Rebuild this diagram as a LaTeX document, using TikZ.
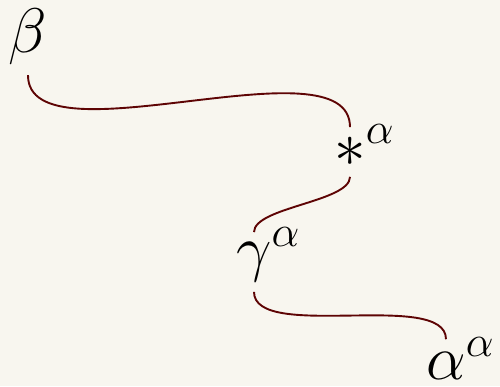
\RequirePackage{fix-cm}
\documentclass[tikz,border=0pt]{standalone}
\usepackage{tikz}
\definecolor{paper}{HTML}{F8F6EF}
\definecolor{linkred}{HTML}{5E0404}
\newcommand\withsup[2]{#1\rlap{\smash{$^{#2}$}}}

\begin{document}
\begin{tikzpicture}[
x=1pt, y=-1pt,
every node/.style={
inner sep=0pt,
font=\fontsize{63}{76}\selectfont
},
link/.style={draw=linkred, line width=1.9pt, shorten <=10pt, shorten >=10pt}
]
\useasboundingbox (0,0) rectangle (500,386);
\fill[paper] (0,0) rectangle (500,386);

\node (beta) at (28,37) {$\beta$};
\node (star) at (350,152) {$\withsup{*}{\alpha}$};
\node (gamma) at (254,262) {$\withsup{\gamma}{\alpha}$};
\node (alpha) at (446,366) {$\withsup{\alpha}{\alpha}$};

\draw[link] (beta.south) .. controls +(0,100) and +(0,-100) .. (star.north);
\draw[link] (star.south) .. controls +(0,35) and +(0,-35) .. (gamma.north);
\draw[link] (gamma.south) .. controls +(0,60) and +(0,-60) .. ([yshift=3pt]alpha.north);

\end{tikzpicture}
\end{document}
